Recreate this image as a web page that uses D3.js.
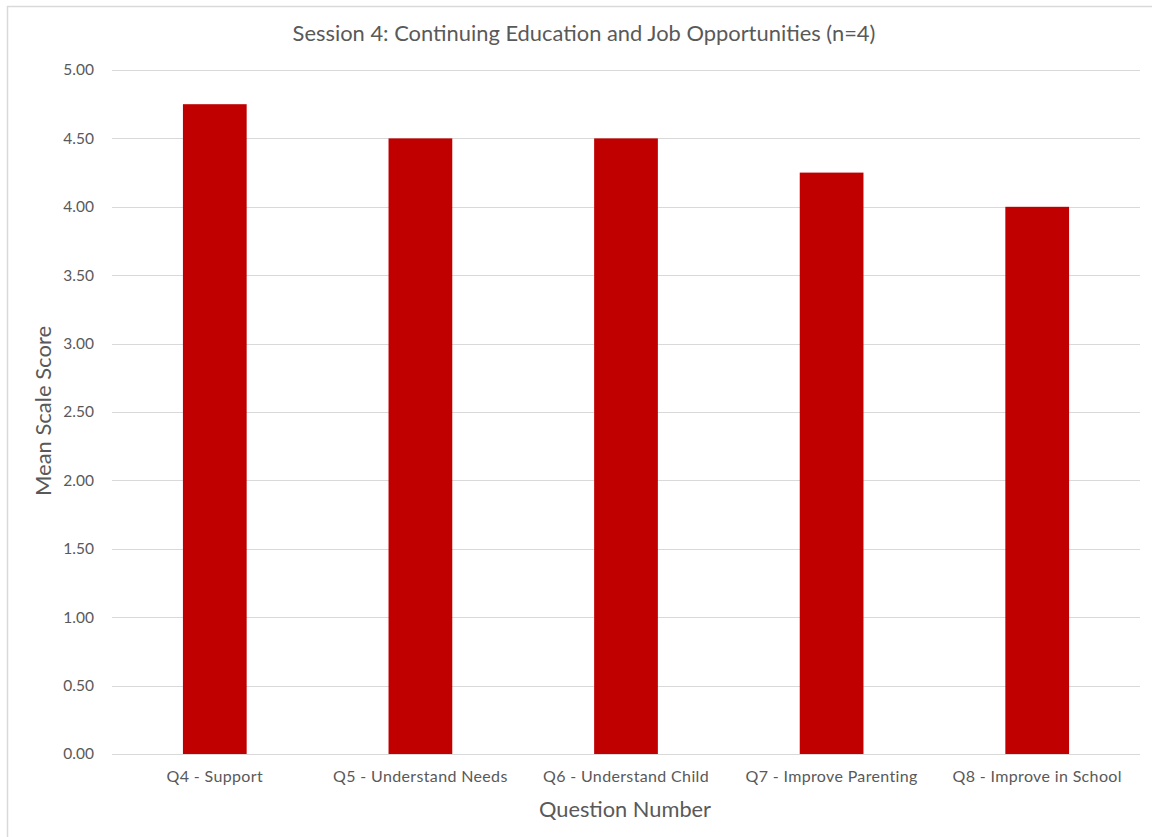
<!DOCTYPE html>
<html>
<head>
<meta charset="utf-8">
<script src="https://cdn.jsdelivr.net/npm/d3@7"></script>
<style>
  html, body { margin: 0; padding: 0; background: #fff; }
  svg { display: block; }
</style>
</head>
<body>
<script>
// Mean scale score per question, Session 4
const categories = ["Q4 - Support", "Q5 - Understand Needs", "Q6 - Understand Child", "Q7 - Improve Parenting", "Q8 - Improve in School"];
const meanScores = [4.75, 4.5, 4.5, 4.25, 4.0];
const yTicks = [0, 0.5, 1, 1.5, 2, 2.5, 3, 3.5, 4, 4.5, 5];
const chartTitle = "Session 4: Continuing Education and Job Opportunities (n=4)";
const xTitle = "Question Number";
const yTitle = "Mean Scale Score";

const W = 1152, H = 837;
const font = "Lato, 'Open Sans', sans-serif";
const textColor = "#595959";
const margin = { top: 70, right: 12, bottom: 83, left: 112 };

const svg = d3.select("body").append("svg").attr("width", W).attr("height", H);

// chart frame
svg.append("rect")
  .attr("x", 7.5).attr("y", 6.5)
  .attr("width", W + 20).attr("height", H + 20)
  .attr("fill", "#fff").attr("stroke", "#d9d9d9").attr("stroke-width", 1.5);

const x = d3.scaleBand()
  .domain(categories)
  .range([margin.left, W - margin.right])
  .paddingInner(0.69).paddingOuter(0.345);

const y = d3.scaleLinear().domain([0, 5]).range([H - margin.bottom, margin.top]);

// gridlines
svg.append("g")
  .selectAll("line")
  .data(yTicks)
  .join("line")
  .attr("x1", margin.left).attr("x2", W - margin.right)
  .attr("y1", d => Math.round(y(d)) + 0.5).attr("y2", d => Math.round(y(d)) + 0.5)
  .attr("stroke", "#d9d9d9").attr("stroke-width", 1);

// y axis labels
const yAxis = d3.axisLeft(y).tickValues(yTicks).tickFormat(d3.format(".2f")).tickSize(0).tickPadding(0);
const gy = svg.append("g").attr("transform", `translate(${margin.left - 18},0)`).call(yAxis);
gy.select(".domain").remove();
gy.selectAll("text").attr("fill", textColor).attr("font-family", font).attr("font-size", 15.5);

// bars
svg.append("g")
  .selectAll("rect")
  .data(categories)
  .join("rect")
  .attr("x", d => x(d))
  .attr("width", x.bandwidth())
  .attr("y", (d, i) => y(meanScores[i]))
  .attr("height", (d, i) => y(0) - y(meanScores[i]))
  .attr("fill", "#c00000");

// x axis labels
const xAxis = d3.axisBottom(x).tickSize(0).tickPadding(0);
const gx = svg.append("g").attr("transform", `translate(0,${H - margin.bottom + 17})`).call(xAxis);
gx.select(".domain").remove();
gx.selectAll("text").attr("fill", textColor).attr("font-family", font).attr("font-size", 16)
  .attr("letter-spacing", 0.35);

// titles
svg.append("text")
  .attr("x", (margin.left + W - margin.right) / 2 - 42).attr("y", 41)
  .attr("text-anchor", "middle")
  .attr("fill", textColor).attr("font-family", font).attr("font-size", 21.9)
  .text(chartTitle);

svg.append("text")
  .attr("x", (margin.left + W - margin.right) / 2 - 1).attr("y", 817)
  .attr("text-anchor", "middle")
  .attr("fill", textColor).attr("font-family", font).attr("font-size", 21.8)
  .text(xTitle);

svg.append("text")
  .attr("transform", `translate(51,${(margin.top + H - margin.bottom) / 2 - 1}) rotate(-90)`)
  .attr("text-anchor", "middle")
  .attr("fill", textColor).attr("font-family", font).attr("font-size", 22)
  .text(yTitle);
</script>
</body>
</html>
